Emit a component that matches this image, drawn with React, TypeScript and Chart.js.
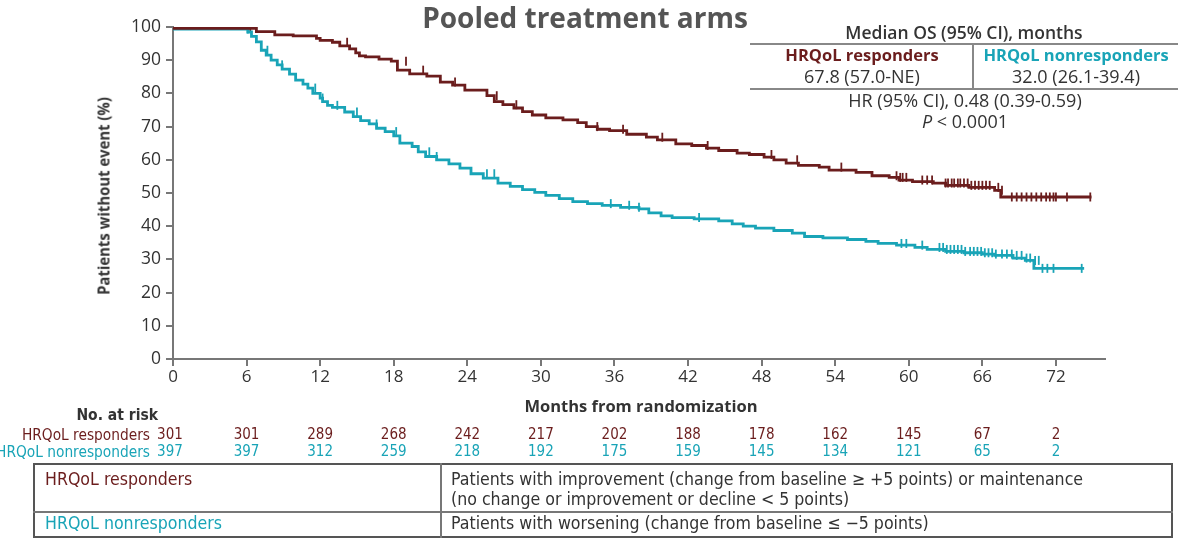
import React, { useEffect, useRef } from "react";
import { Chart, registerables } from "chart.js";

Chart.register(...registerables);

// ---------- data ----------
const xTicks = [0, 6, 12, 18, 24, 30, 36, 42, 48, 54, 60, 66, 72];
const yTicks = [0, 10, 20, 30, 40, 50, 60, 70, 80, 90, 100];

// Kaplan-Meier steps: [month, % without event]
const respondersSteps: [number, number][] = [
  [0, 100], [6.8, 99.6], [8.3, 98.6], [9.8, 97.6], [11.7, 97.3], [12.0, 96.6],
  [13.0, 96.0], [13.6, 95.4], [14.4, 94.3], [14.9, 93.4], [15.2, 92.2], [15.7, 91.3],
  [16.8, 91.0], [17.8, 90.3], [18.3, 89.7], [19.3, 87.0], [20.7, 85.9], [21.8, 85.2],
  [22.8, 83.4], [23.8, 82.5], [25.6, 81.0], [26.2, 79.3], [26.9, 77.5], [27.8, 76.6],
  [28.5, 75.6], [29.3, 74.5], [30.4, 73.5], [31.8, 72.6], [33.0, 72.0], [33.7, 71.2],
  [34.6, 70.0], [35.6, 69.2], [37.0, 68.8], [38.6, 67.7], [39.5, 66.8], [41.0, 66.0],
  [42.3, 64.8], [43.5, 64.3], [44.5, 63.5], [46.0, 62.8], [47.0, 62.0], [48.2, 61.6],
  [49.0, 60.8], [50.0, 60.0], [51.0, 59.0], [52.7, 58.3], [53.5, 57.8], [55.7, 56.9],
  [57.0, 56.2], [58.4, 55.2], [59.2, 54.7], [60.3, 53.9], [62.0, 53.4], [63.0, 53.0],
  [64.9, 52.3], [67.0, 51.7], [67.5, 50.8], [68.2, 48.8], [74.9, 48.8],
];
const nonrespondersSteps: [number, number][] = [
  [0, 100], [6.1, 99.4], [6.4, 98.5], [6.8, 97.2], [7.2, 95.5], [7.6, 93.0], [8.0, 91.5],
  [8.5, 90.0], [8.9, 88.6], [9.5, 87.3], [10.0, 85.8], [10.6, 84.0], [11.0, 82.8],
  [11.4, 81.6], [12.0, 80.0], [12.2, 78.6], [12.6, 77.5], [13.0, 76.4], [14.0, 75.8],
  [14.7, 74.4], [15.3, 73.0], [16.0, 71.8], [16.6, 70.8], [17.3, 69.5], [18.0, 68.5],
  [18.5, 67.2], [19.5, 65.0], [20.0, 64.0], [20.6, 62.4], [21.5, 61.0], [22.5, 60.0],
  [23.4, 58.8], [24.3, 57.5], [25.3, 55.8], [26.5, 54.5], [27.5, 53.0], [28.5, 52.0],
  [29.5, 51.0], [30.4, 50.2], [31.5, 49.3], [32.6, 48.3], [33.8, 47.4], [35.0, 46.8],
  [36.5, 46.3], [38.0, 45.7], [38.8, 45.2], [39.8, 44.0], [40.7, 43.1], [42.5, 42.6],
  [44.5, 42.2], [45.6, 41.6], [46.5, 40.7], [47.5, 40.0], [49.0, 39.4], [50.5, 38.7],
  [51.5, 37.9], [53.0, 36.9], [55.0, 36.5], [56.5, 36.0], [57.5, 35.4], [59.0, 34.8],
  [60.5, 34.3], [61.5, 33.6], [63.0, 33.0], [64.5, 32.4], [66.0, 32.0], [67.0, 31.6],
  [68.5, 31.2], [69.5, 30.4], [70.2, 29.7], [70.7, 27.3], [74.3, 27.3],
];

// censored observations (months)
const respondersCensored = [
  6.3, 14.2, 19.0, 20.4, 23.0, 26.4, 28.0, 34.6, 36.7, 39.9, 43.6, 48.8, 50.9, 54.5,
  59.0, 59.3, 59.5, 59.8, 61.1, 61.5, 61.9, 63.0, 63.2, 63.5, 63.7, 64.0, 64.2, 64.5,
  64.8, 65.1, 65.4, 65.7, 66.0, 66.3, 66.6, 67.3, 67.6, 68.4, 68.8, 69.2, 69.6, 70.0,
  70.4, 70.8, 71.2, 71.5, 71.8, 72.0, 72.9, 74.8,
];
const nonrespondersCensored = [
  6.1, 7.7, 8.9, 11.6, 12.2, 13.4, 15.0, 16.6, 18.2, 20.9, 21.5, 25.6, 26.2, 35.7, 37.2,
  38.0, 42.9, 59.4, 59.8, 61.1, 62.5, 62.8, 63.1, 63.4, 63.7, 64.0, 64.3, 64.6, 65.0,
  65.3, 65.6, 65.9, 66.2, 66.5, 66.8, 67.1, 67.6, 68.0, 68.4, 68.8, 69.2, 69.6, 69.9,
  70.3, 70.6, 70.9, 71.3, 71.8, 74.1,
];

// number at risk
const riskTimes = [0, 6, 12, 18, 24, 30, 36, 42, 48, 54, 60, 66, 72];
const respondersAtRisk = [301, 301, 289, 268, 242, 217, 202, 188, 178, 162, 145, 67, 2];
const nonrespondersAtRisk = [397, 397, 312, 259, 218, 192, 175, 159, 145, 134, 121, 65, 2];

const MAROON = "#6b1d1d";
const TEAL = "#19a4b7";
const TEXT = "#333333";

function valueAt(steps: [number, number][], t: number): number {
  let v = steps[0][1];
  for (const [x, y] of steps) {
    if (x <= t) v = y;
    else break;
  }
  return v;
}

const T: React.FC<{ x: number; y: number; align?: "left" | "center" | "right"; sx?: number; style?: React.CSSProperties; children: React.ReactNode }> = ({ x, y, align = "left", sx = 1, style, children }) => {
  const tx = align === "center" ? "-50%" : align === "right" ? "-100%" : "0";
  const origin = align === "center" ? "center" : align === "right" ? "right" : "left";
  return (
    <div
      style={{
        position: "absolute",
        left: x,
        top: y,
        transform: `translate(${tx}, -50%)`,
        whiteSpace: "nowrap",
        lineHeight: 1.1,
        color: TEXT,
        fontFamily: "'Open Sans', sans-serif",
        ...style,
      }}
    >
      <div style={{ transform: `scaleX(${sx})`, transformOrigin: origin }}>{children}</div>
    </div>
  );
};

const NARROW = "'Liberation Sans Narrow', 'DejaVu Sans Condensed', sans-serif";

export default function App() {
  const ref = useRef<HTMLCanvasElement | null>(null);

  useEffect(() => {
    if (!ref.current) return;
    const atRiskPlugin = {
      id: "atRisk",
      afterDraw(chart: any) {
        const ctx = chart.ctx;
        const xs = chart.scales.x;
        ctx.save();
        ctx.font = `15px ${NARROW}`;
        ctx.textAlign = "center";
        ctx.textBaseline = "middle";
        riskTimes.forEach((t, i) => {
          const px = xs.getPixelForValue(t) - (i === 0 ? 3 : 0);
          ctx.fillStyle = MAROON;
          ctx.fillText(String(respondersAtRisk[i]), px, 435);
          ctx.fillStyle = TEAL;
          ctx.fillText(String(nonrespondersAtRisk[i]), px, 452);
        });
        ctx.restore();
      },
    };

    const chart = new Chart(ref.current, {
      type: "line",
      data: {
        datasets: [
          {
            label: "HRQoL responders",
            data: respondersSteps.map(([x, y]) => ({ x, y })),
            stepped: "after",
            borderColor: MAROON,
            borderWidth: 2.8,
            pointRadius: 0,
            fill: false,
          },
          {
            label: "HRQoL nonresponders",
            data: nonrespondersSteps.map(([x, y]) => ({ x, y })),
            stepped: "after",
            borderColor: TEAL,
            borderWidth: 2.8,
            pointRadius: 0,
            fill: false,
          },
          {
            label: "responders censored",
            data: respondersCensored.map((t) => ({ x: t, y: valueAt(respondersSteps, t) })),
            showLine: false,
            pointStyle: "line",
            rotation: 90,
            pointRadius: 4.5,
            borderColor: MAROON,
            backgroundColor: MAROON,
            pointBorderWidth: 1.8,
          },
          {
            label: "nonresponders censored",
            data: nonrespondersCensored.map((t) => ({ x: t, y: valueAt(nonrespondersSteps, t) })),
            showLine: false,
            pointStyle: "line",
            rotation: 90,
            pointRadius: 4.5,
            borderColor: TEAL,
            backgroundColor: TEAL,
            pointBorderWidth: 1.8,
          },
        ],
      },
      options: {
        responsive: false,
        animation: false,
        devicePixelRatio: 1,
        layout: { padding: { left: 0, right: 80, top: 27, bottom: 0 } },
        plugins: { legend: { display: false }, tooltip: { enabled: false } },
        events: [],
        scales: {
          x: {
            type: "linear",
            min: 0,
            max: 76,
            afterBuildTicks: (s: any) => {
              s.ticks = xTicks.map((v) => ({ value: v }));
            },
            afterFit: (s: any) => {
              s.height = 185;
            },
            ticks: { font: { family: "'Open Sans'", size: 17 }, color: TEXT, padding: 1, autoSkip: false, maxRotation: 0 },
            grid: { drawOnChartArea: false, drawTicks: true, tickLength: 7, color: "#777", lineWidth: 2 },
            border: { color: "#777", width: 2 },
          },
          y: {
            type: "linear",
            min: 0,
            max: 100,
            afterBuildTicks: (s: any) => {
              s.ticks = yTicks.map((v) => ({ value: v }));
            },
            afterFit: (s: any) => {
              s.width = 173;
            },
            ticks: { font: { family: "'Open Sans'", size: 17.5 }, color: TEXT, padding: 5 },
            grid: { drawOnChartArea: false, drawTicks: true, tickLength: 7, color: "#777", lineWidth: 2 },
            border: { color: "#777", width: 2 },
          },
        },
      },
      plugins: [atRiskPlugin],
    } as any);
    return () => chart.destroy();
  }, []);

  const lineStyle: React.CSSProperties = { position: "absolute", background: "#888" };

  return (
    <div style={{ position: "absolute", left: 0, top: 0, width: 1185, height: 544, background: "#fff", overflow: "hidden" }}>
      <canvas ref={ref} width={1185} height={544} style={{ display: "block", position: "absolute", left: 0, top: 0 }} />

      {/* title */}
      <T x={585} y={17} align="center" style={{ fontSize: 28, fontWeight: 700, color: "#555" }}>
        Pooled treatment arms
      </T>

      {/* axis titles */}
      <div
        style={{
          position: "absolute",
          left: 103,
          top: 196,
          transform: "translate(-50%, -50%) rotate(-90deg) scaleX(0.9)",
          whiteSpace: "nowrap",
          fontFamily: "'Open Sans', sans-serif",
          fontWeight: 700,
          fontSize: 16.5,
          color: TEXT,
        }}
      >
        Patients without event (%)
      </div>
      <T x={641} y={406} align="center" style={{ fontSize: 16.5, fontWeight: 700 }}>
        Months from randomization
      </T>

      {/* median OS table */}
      <T x={964} y={33} align="center" style={{ fontSize: 17.5, fontWeight: 600 }}>
        Median OS (95% CI), months
      </T>
      <div style={{ ...lineStyle, left: 750, top: 43, width: 428, height: 1.5 }} />
      <div style={{ ...lineStyle, left: 750, top: 88, width: 428, height: 1.5 }} />
      <div style={{ ...lineStyle, left: 972, top: 43, width: 1.5, height: 45 }} />
      <T x={862} y={55} align="center" style={{ fontSize: 16.5, fontWeight: 700, color: MAROON }}>
        HRQoL responders
      </T>
      <T x={1076} y={55} align="center" style={{ fontSize: 16.5, fontWeight: 700, color: TEAL }}>
        HRQoL nonresponders
      </T>
      <T x={862} y={77} align="center" style={{ fontSize: 18 }}>
        67.8 (57.0-NE)
      </T>
      <T x={1076} y={77} align="center" style={{ fontSize: 18 }}>
        32.0 (26.1-39.4)
      </T>
      <T x={965} y={101} align="center" style={{ fontSize: 18 }}>
        HR (95% CI), 0.48 (0.39-0.59)
      </T>
      <T x={965} y={122} align="center" style={{ fontSize: 18 }}>
        <i>P</i> &lt; 0.0001
      </T>

      {/* at risk labels */}
      <T x={158} y={416} align="right" style={{ fontSize: 15.5, fontWeight: 700, fontFamily: NARROW }}>
        No. at risk
      </T>
      <T x={150} y={435} align="right" style={{ fontSize: 15.3, color: MAROON, fontFamily: NARROW }}>
        HRQoL responders
      </T>
      <T x={150} y={452} align="right" style={{ fontSize: 15.3, color: TEAL, fontFamily: NARROW }}>
        HRQoL nonresponders
      </T>

      {/* definitions table */}
      <div style={{ position: "absolute", left: 33, top: 463, width: 1140, height: 75, border: "2px solid #555", boxSizing: "border-box" }} />
      <div style={{ position: "absolute", left: 440, top: 463, width: 1.5, height: 75, background: "#777" }} />
      <div style={{ position: "absolute", left: 33, top: 511, width: 1140, height: 1.5, background: "#777" }} />
      <T x={45} y={480} style={{ fontSize: 17.6, color: MAROON, fontFamily: NARROW }}>
        HRQoL responders
      </T>
      <T x={451} y={480} style={{ fontSize: 17.6, fontFamily: NARROW }}>
        Patients with improvement (change from baseline ≥ +5 points) or maintenance
      </T>
      <T x={451} y={500} style={{ fontSize: 17.6, fontFamily: NARROW }}>
        (no change or improvement or decline &lt; 5 points)
      </T>
      <T x={45} y={524} style={{ fontSize: 17.6, color: TEAL, fontFamily: NARROW }}>
        HRQoL nonresponders
      </T>
      <T x={451} y={524} style={{ fontSize: 17.6, fontFamily: NARROW }}>
        Patients with worsening (change from baseline ≤ −5 points)
      </T>
    </div>
  );
}
